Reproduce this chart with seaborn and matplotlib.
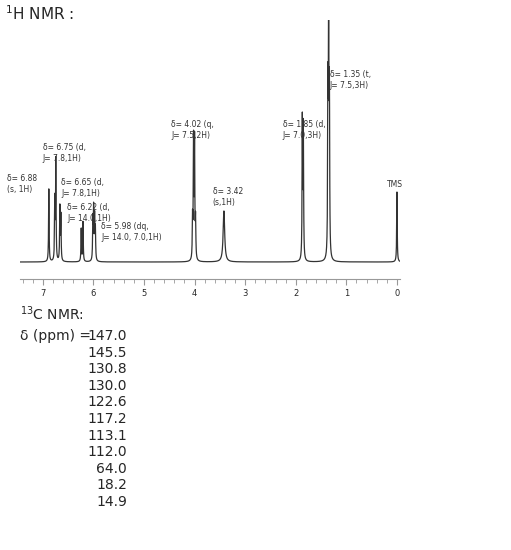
import matplotlib.pyplot as plt
import numpy as np
import seaborn as sns

# individual resonance lines (ppm) and heights (arb.)
line_ppm = [6.88, 6.762, 6.742, 6.662, 6.642, 6.24, 6.205, 6.01, 5.995, 5.975, 5.96,
            4.04, 4.02, 4.00, 3.98, 3.42, 1.87, 1.85, 1.365, 1.35, 1.335, 0.0]
line_h = [73, 60, 101, 54, 45, 33, 40, 40, 50, 42, 30,
          40, 118, 117, 38, 51, 140, 132, 160, 241, 155, 70]
line_w = [0.006] * 15 + [0.018] + [0.006] * 6

# label anchor (ppm of left edge, height of top edge)
labels = [(7.71, 91, "δ= 6.88\n(s, 1H)"), (7.0, 122, "δ= 6.75 (d,\nJ= 7.8,1H)"),
          (6.64, 87, "δ= 6.65 (d,\nJ= 7.8,1H)"), (6.52, 62, "δ= 6.22 (d,\nJ= 14.0,1H)"),
          (5.85, 43, "δ= 5.98 (dq,\nJ= 14.0, 7.0,1H)"), (4.46, 145, "δ= 4.02 (q,\nJ= 7.5,2H)"),
          (3.64, 78, "δ= 3.42\n(s,1H)"), (2.26, 145, "δ= 1.85 (d,\nJ= 7.0,3H)"),
          (1.33, 195, "δ= 1.35 (t,\nJ= 7.5,3H)"), (0.2, 85, "TMS")]

c13 = ["147.0", "145.5", "130.8", "130.0", "122.6", "117.2", "113.1", "112.0", "64.0", "18.2", "14.9"]

sns.set_style("white")
fig = plt.figure(figsize=(5.11, 5.5), dpi=100)
W, H = 511, 550
ax = fig.add_axes([20 / W, 1 - 265 / H, 380 / W, 245 / H])

x = np.linspace(7.45, -0.06, 6000)
y = np.zeros_like(x)
for p, h, w in zip(line_ppm, line_h, line_w):
    y += h / (1 + ((x - p) / w) ** 2)
y += 3
sns.lineplot(x=x, y=y, ax=ax, color="#333333", lw=0.9)
ax.set_xlim(7.45, -0.06)
ax.set_ylim(0, 245)
ax.set_yticks([])
for s in ["top", "left", "right"]:
    ax.spines[s].set_visible(False)
ax.spines["bottom"].set_position(("outward", 10))
ax.spines["bottom"].set_color("#999999")
ax.set_xticks(range(0, 8))
ax.set_xticks(np.arange(0, 7.45, 0.2), minor=True)
ax.tick_params(axis="x", which="both", direction="out", length=4, color="#999999",
               labelsize=6, pad=3, bottom=True)
ax.tick_params(axis="x", which="minor", length=3)
for xp, yp, t in labels:
    ax.text(xp, yp, t, fontsize=5.5, ha="left", va="top", color="#333333",
            linespacing=1.3, clip_on=False)

fig.text(5 / W, 1 - 20 / H, "$^{1}$H NMR :", fontsize=11)
fig.text(20 / W, 1 - 320 / H, "$^{13}$C NMR:", fontsize=10)
fig.text(20 / W, 1 - 340 / H, "δ (ppm) =", fontsize=10)
for i, v in enumerate(c13):
    fig.text(127 / W, 1 - (340 + 16.6 * i) / H, v, fontsize=10, ha="right")

fig.savefig("out.png", dpi=100)
